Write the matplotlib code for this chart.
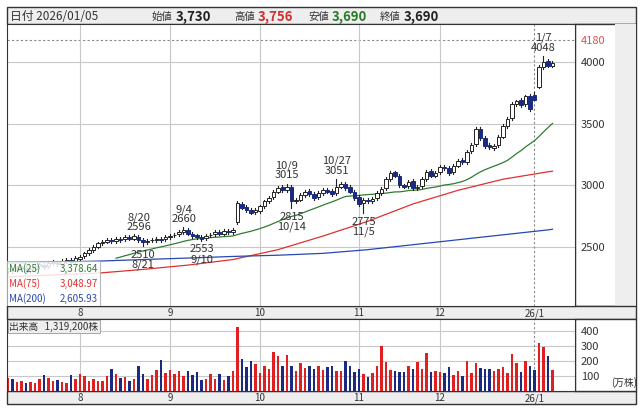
import matplotlib
matplotlib.use("Agg")
import matplotlib.pyplot as plt
from matplotlib.patches import Rectangle
import numpy as np

plt.rcParams['font.family'] = ['Noto Sans CJK JP', 'DejaVu Sans']

closes = [2320,2310,2330,2340,2300,2320,2350,2360,2340,2370,2380,2360,2390,2400,2380,2410,
          2420,2450,2480,2500,2530,2540,2560,2550,2570,2560,2580,2570,2590,2560,2540,2550,2560,2570,2560,2580,
          2590,2600,2620,2640,2610,2590,2580,2570,2590,2600,2620,2610,2630,2620,2640,2860,2820,2800,2780,2800,
          2830,2870,2900,2950,2980,2960,2990,2870,2880,2920,2950,2930,2900,2940,2960,2950,2930,2990,3010,2980,2950,2900,
          2850,2880,2870,2890,2940,2970,3050,3100,3080,3000,2990,3030,2980,2990,3050,3110,3080,3100,
          3150,3140,3100,3160,3200,3190,3270,3330,3460,3380,3320,3310,3320,3390,3480,3540,3660,3680,3650,3720,3620,
          3690,3960,4000,3970,3990]
opens = [2310,2320,2315,2330,2335,2305,2325,2350,2355,2345,2370,2375,2365,2390,2395,2385,
         2405,2425,2450,2480,2505,2530,2545,2560,2550,2570,2565,2580,2570,2585,2560,2540,2555,2560,2570,2565,
         2585,2595,2605,2625,2640,2610,2595,2585,2575,2595,2605,2620,2610,2630,2620,2700,2850,2825,2800,2785,
         2790,2835,2870,2905,2950,2985,2960,2985,2875,2885,2920,2955,2930,2905,2940,2965,2955,2935,2990,3015,2985,2950,
         2910,2860,2885,2870,2895,2940,2975,3050,3105,3080,3000,2995,3035,2980,2995,3050,3115,3080,
         3105,3150,3140,3105,3160,3205,3190,3275,3335,3460,3385,3325,3305,3325,3395,3480,3545,3660,3690,3655,3725,
         3730,3800,3960,4005,3970]
wick_hi = [15]*122
wick_lo = [15]*122
key_high = {29: 2596, 39: 2660, 62: 3015, 73: 3051, 117: 3756, 119: 4048}
key_low = {30: 2510, 43: 2553, 63: 2815, 79: 2775, 117: 3690}
volumes = [85,80,60,65,55,60,55,80,110,90,70,75,60,55,110,80,
           115,98,70,78,65,70,103,148,115,85,95,70,78,170,115,83,110,140,210,123,
           140,115,135,103,133,105,130,73,83,115,83,115,73,103,135,428,
           215,160,203,178,120,170,145,260,233,170,240,165,135,190,153,170,150,
           165,140,160,165,132,135,200,170,128,145,115,95,120,165,300,195,140,132,125,128,165,148,195,150,255,
           128,132,125,120,158,105,132,103,200,118,185,152,150,150,132,148,162,120,248,185,125,200,170,140,322,292,232,140]
ma75_x = [0,10,20,30,40,50,60,70,80,90,100,110,120,121]
ma75 = [2260,2275,2290,2320,2355,2400,2480,2590,2710,2850,2960,3050,3110,3115]
ma200_x = [0,10,20,30,40,50,60,70,80,90,100,110,120,121]
ma200 = [2370,2380,2387,2400,2412,2425,2435,2450,2480,2520,2560,2600,2640,2645]
month_pos = [16,36,56,78,96,117]
month_labels = ['8','9','10','11','12','26/1']
annots = [(29,'8/20\n2596','top'),(30,'2510\n8/21','bot'),(39,'9/4\n2660','top'),(43,'2553\n9/10','bot'),
          (62,'10/9\n3015','top'),(63,'2815\n10/14','bot'),(73,'10/27\n3051','top'),(79,'2775\n11/5','bot'),
          (119,'1/7\n4048','top')]

W, H = 643, 410
fig = plt.figure(figsize=(W/100, H/100), dpi=100)
def ax_at(x0, y0, x1, y1):
    return fig.add_axes([x0/W, 1-y1/H, (x1-x0)/W, (y1-y0)/H])

NAVY = '#1a2a80'
RED = '#e02020'
XL = (-0.22, 126.0)

bg = ax_at(0, 0, W, H); bg.set_xlim(0, W); bg.set_ylim(H, 0); bg.axis('off')
bg.add_patch(Rectangle((7, 8), 629, 17, fc='#eeeeee', ec='#333333', lw=1))
bg.add_patch(Rectangle((575, 25), 61, 282, fc='white', ec='#333333', lw=1))
bg.add_patch(Rectangle((615, 25), 21, 380, fc='#eeeeee', ec='none'))
bg.add_patch(Rectangle((7, 307), 629, 13, fc='#eeeeee', ec='#333333', lw=1))
bg.add_patch(Rectangle((7, 392), 629, 13, fc='#eeeeee', ec='#333333', lw=1))
bg.add_patch(Rectangle((575, 320), 61, 72, fc='white', ec='#333333', lw=1))
bg.text(10, 17, '日付 2026/01/05', fontsize=8.5, va='center', color='#333333')
hdr = [(152, '始値', '3,730', '#222222'), (234, '高値', '3,756', '#d03030'),
       (308, '安値', '3,690', '#2a7a2a'), (380, '終値', '3,690', '#222222')]
for x, lab, val, col in hdr:
    bg.text(x, 17, lab, fontsize=7.5, va='center', color='#333333')
    bg.text(x + 24, 17, val, fontsize=9.5, va='center', color=col, fontweight='bold')
for p, l in zip(month_pos, month_labels):
    px = 8 + 4.5 * p
    bg.text(px, 313.5, l, fontsize=7, ha='center', va='center', color='#333333')
    bg.text(px, 398.5, l, fontsize=7, ha='center', va='center', color='#333333')
bg.text(637, 383, '(万株)', fontsize=7, ha='right', va='center', color='#333333')

ax = ax_at(7, 25, 575, 307)
ax.set_xlim(*XL); ax.set_ylim(2024, 4306)
ax.set_xticks([]); ax.set_yticks([])
for s in ax.spines.values(): s.set_color('#333333')
for lv in [2500, 3000, 3500, 4000]:
    ax.axhline(lv, color='#c8c8c8', lw=0.8, zorder=0)
    ax.text(1.01, (lv-2024)/(4306-2024), str(lv), transform=ax.transAxes, fontsize=8, va='center', color='#333333')
ax.axhline(4180, color='#888888', lw=0.8, ls=(0, (2, 2)), zorder=0)
ax.text(1.01, (4180-2024)/(4306-2024), '4180', transform=ax.transAxes, fontsize=8, va='center', color='#e05050')
for p in month_pos[:-1]:
    ax.axvline(p, color='#c8c8c8', lw=0.8, zorder=0)
ax.axvline(month_pos[-1], color='#888888', lw=0.8, ls=(0, (2, 2)), zorder=0)

n = len(closes)
x = np.arange(n)
highs, lows = [], []
for i in range(n):
    highs.append(key_high.get(i, max(opens[i], closes[i]) + wick_hi[i]))
    lows.append(key_low.get(i, min(opens[i], closes[i]) - wick_lo[i]))
up = [c >= o for o, c in zip(opens, closes)]
for i in range(n):
    ax.plot([i, i], [lows[i], highs[i]], color='#222222', lw=0.8, zorder=2)
    b0, b1 = min(opens[i], closes[i]), max(opens[i], closes[i])
    ax.add_patch(Rectangle((i-0.35, b0), 0.7, max(b1-b0, 4),
                           fc='white' if up[i] else NAVY, ec='#222222' if up[i] else NAVY, lw=0.7, zorder=3))
ma25 = np.convolve(closes, np.ones(25)/25, mode='valid')
ax.plot(np.arange(24, n), ma25, color='#2e7d32', lw=0.9, zorder=1)
ax.plot(ma75_x, ma75, color='#e03030', lw=0.9, zorder=1)
ax.plot(ma200_x, ma200, color='#2848b0', lw=0.9, zorder=1)
for i, t, pos in annots:
    if pos == 'top':
        ax.annotate(t, (i, highs[i]), xytext=(0, 3), textcoords='offset points', ha='center', va='bottom',
                    fontsize=8, color='#333333', linespacing=0.95)
    else:
        ax.annotate(t, (i, lows[i]), xytext=(0, -2), textcoords='offset points', ha='center', va='top',
                    fontsize=8, color='#333333', linespacing=0.95)
ax.add_patch(Rectangle((0.0, 0.0), 0.164, 0.16, transform=ax.transAxes, fc='white', ec='#aaaaaa', lw=0.8, zorder=5, alpha=0.85))
leg = [('MA(25)', '3,378.64', '#2e7d32'), ('MA(75)', '3,048.97', '#e03030'), ('MA(200)', '2,605.93', '#2848b0')]
for k, (a, b, c) in enumerate(leg):
    yy = 0.135 - k*0.053
    ax.text(0.004, yy, a, transform=ax.transAxes, fontsize=7, color=c, va='center', zorder=6)
    ax.text(0.16, yy, b, transform=ax.transAxes, fontsize=7, color=c, va='center', ha='right', zorder=6)

vx = ax_at(7, 320, 575, 392)
vx.set_xlim(*XL); vx.set_ylim(0, 480)
vx.set_xticks([]); vx.set_yticks([])
for s in vx.spines.values(): s.set_color('#333333')
for lv in [100, 200, 300, 400]:
    vx.axhline(lv, color='#c8c8c8', lw=0.8, zorder=0)
    vx.text(1.01, lv/480, str(lv), transform=vx.transAxes, fontsize=8, va='center', color='#333333')
for p in month_pos[:-1]:
    vx.axvline(p, color='#c8c8c8', lw=0.8, zorder=0)
vx.axvline(month_pos[-1], color='#888888', lw=0.8, ls=(0, (2, 2)), zorder=0)
vx.bar(x, volumes, width=0.6, color=[RED if u else NAVY for u in up], zorder=2)
vx.text(0.004, 0.9, '出来高   1,319,200株', transform=vx.transAxes, fontsize=7, va='center', color='#333333',
        bbox=dict(fc='#eeeeee', ec='#999999', lw=0.6, pad=1.2), zorder=6)

fig.savefig('out.png', dpi=100)
